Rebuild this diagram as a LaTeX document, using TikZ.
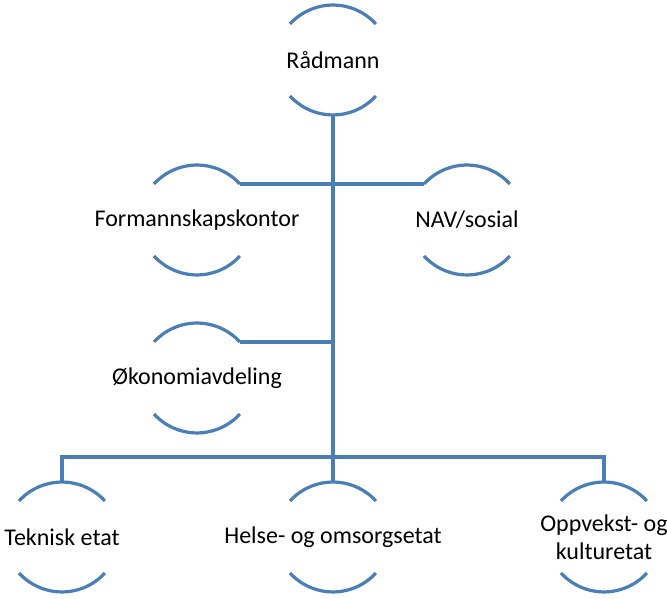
\documentclass[tikz,border=0pt]{standalone}
\usepackage{fontspec}
\setmainfont{Carlito}
\definecolor{linec}{RGB}{74,126,182}
\begin{document}
\begin{tikzpicture}[x=1pt,y=1pt,
  unit/.style={draw=none,inner sep=0pt,minimum width=86pt,minimum height=110pt,align=center,
    font=\fontsize{24}{28}\selectfont,text=black},
  conn/.style={draw=linec,line width=3.2pt},
  arcline/.style={draw=linec,line width=3.2pt}]
\useasboundingbox (0,0) rectangle (667,599);
\begin{scope}
\clip (0,0) rectangle (667,599);
\node[unit] (r) at (333,539) {Rådmann};
\node[unit] (f) at (197,379) {Formannskapskontor};
\node[unit] (nav) at (467,379) {NAV/sosial};
\node[unit] (o) at (197,221) {Økonomiavdeling};
\node[unit] (t) at (62,62) {Teknisk etat};
\node[unit] (h) at (333,62) {Helse- og omsorgsetat};
\node[unit] (op) at (604,62) {Oppvekst- og\\kulturetat};
\coordinate (bus) at (333,142);
\coordinate (oe) at ([shift={(43pt,36pt)}]o.center);
\foreach \n in {r,f,nav,o,t,h,op}{
  \draw[arcline] ([shift={(-43pt,36pt)}]\n.center) arc[start angle=137.6,end angle=42.4,radius=58.2pt];
  \draw[arcline] ([shift={(-43pt,-36pt)}]\n.center) arc[start angle=222.4,end angle=317.6,radius=58.2pt];
}
\draw[conn] (r.south) -- (h.north);
\draw[conn] ([shift={(43pt,36pt)}]f.center) -- ([shift={(-43pt,36pt)}]nav.center);
\draw[conn] (oe) -- (oe -| r.south);
\draw[conn] (t.north) |- (bus) -| (op.north);
\end{scope}
\end{tikzpicture}
\end{document}
